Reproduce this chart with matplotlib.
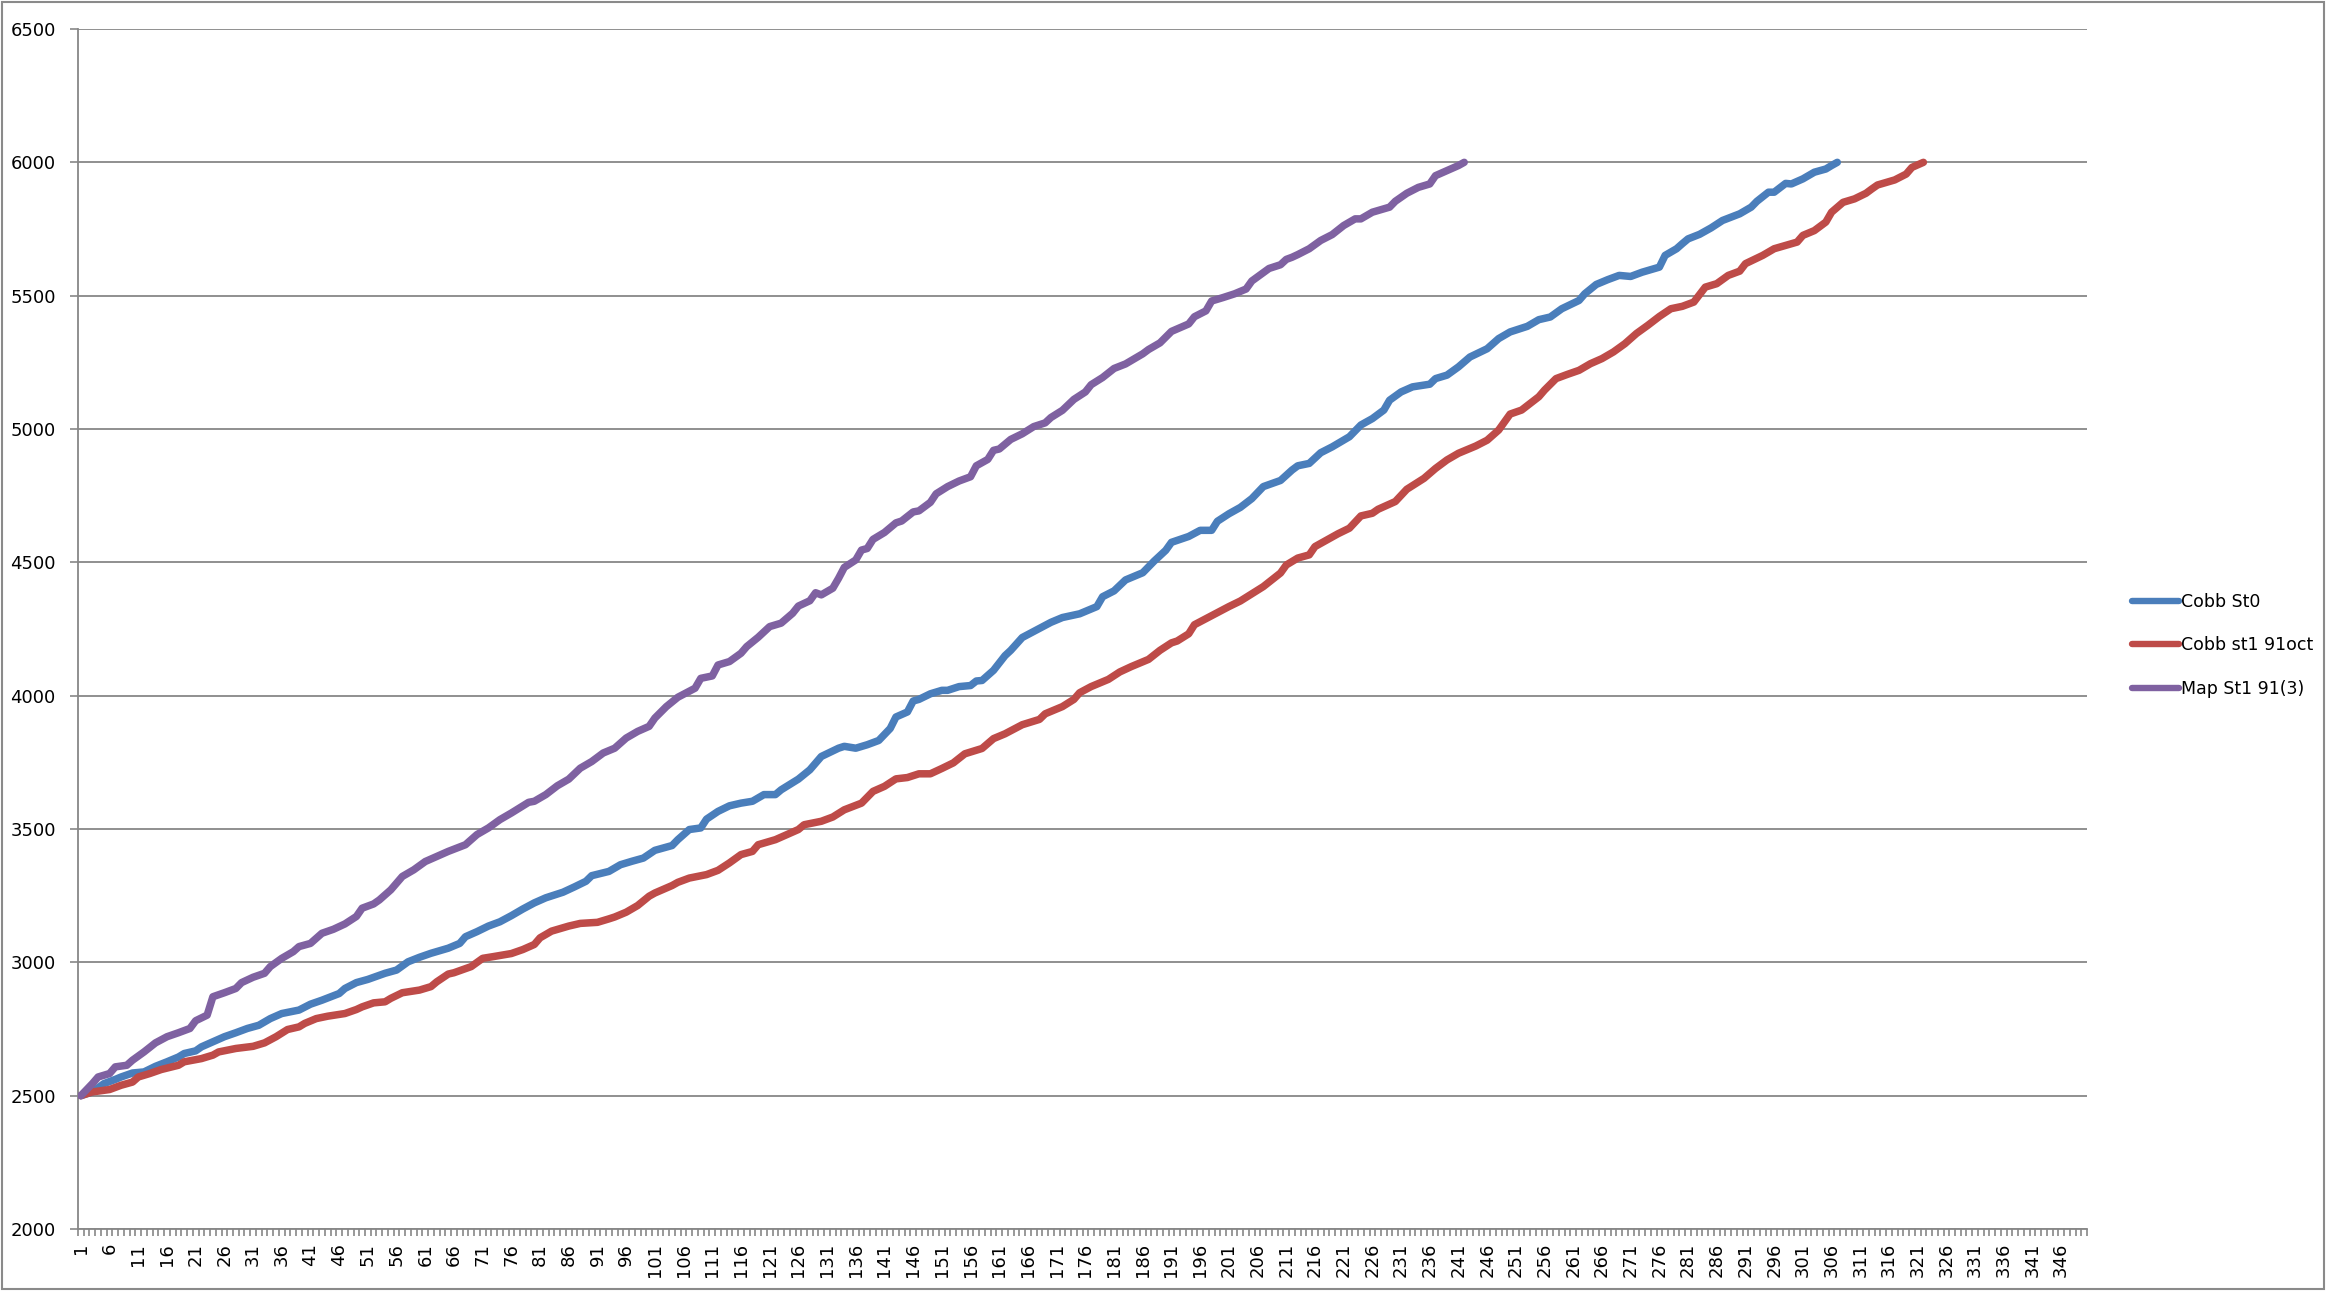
import matplotlib
matplotlib.use("Agg")
import matplotlib.pyplot as plt
from matplotlib.patches import Rectangle

# ---------------- data ----------------
series_names = ["Cobb St0", "Cobb st1 91oct", "Map St1 91(3)"]
n_categories = 350
category_labels = [str(i) for i in range(1, n_categories + 1)]
y_ticks = [2000, 2500, 3000, 3500, 4000, 4500, 5000, 5500, 6000, 6500]

cobb_st0_x = [1, 3, 5, 7, 8, 10, 12, 14, 16, 18, 19, 21, 22, 24, 26, 28, 30, 32, 34, 36,
              39, 41, 43, 46, 47, 49, 51, 54, 56, 58, 60, 62, 65, 67, 68, 70, 72, 74, 76, 78,
              80, 82, 85, 87, 89, 90, 93, 95, 97, 99, 101, 104, 105, 107, 109, 110, 112, 114, 116, 118,
              120, 122, 123, 126, 128, 130, 133, 134, 136, 138, 140, 142, 143, 145, 146, 147, 149, 151, 152, 154,
              156, 157, 158, 160, 162, 163, 165, 168, 170, 172, 175, 177, 178, 179, 181, 183, 186, 188, 190, 191,
              194, 196, 198, 199, 201, 203, 205, 207, 210, 212, 213, 215, 217, 219, 222, 224, 226, 228, 229, 231,
              233, 236, 237, 239, 241, 243, 246, 248, 250, 253, 255, 257, 259, 262, 263, 265, 267, 269, 271, 273,
              276, 277, 279, 280, 281, 283, 285, 287, 290, 292, 293, 295, 296, 298, 299, 301, 303, 305, 306, 307]
cobb_st0_y = [2500, 2514, 2545, 2561, 2570, 2585, 2589, 2610, 2627, 2645, 2658, 2668, 2683, 2702, 2721, 2736, 2752, 2764, 2789, 2808,
              2821, 2843, 2858, 2883, 2902, 2924, 2936, 2959, 2971, 3002, 3019, 3034, 3053, 3071, 3096, 3115, 3136, 3152, 3175, 3200,
              3223, 3242, 3263, 3283, 3304, 3325, 3341, 3366, 3379, 3391, 3420, 3438, 3460, 3498, 3504, 3537, 3566, 3587, 3597, 3604,
              3629, 3629, 3647, 3687, 3722, 3772, 3803, 3810, 3803, 3816, 3832, 3877, 3920, 3939, 3980, 3986, 4007, 4020, 4020, 4034,
              4038, 4055, 4057, 4095, 4150, 4170, 4218, 4252, 4275, 4293, 4307, 4325, 4334, 4371, 4393, 4434, 4461, 4505, 4545, 4575,
              4597, 4620, 4620, 4654, 4682, 4706, 4739, 4784, 4807, 4846, 4862, 4871, 4911, 4933, 4971, 5015, 5039, 5071, 5108, 5139,
              5158, 5168, 5189, 5202, 5233, 5270, 5301, 5339, 5364, 5385, 5410, 5420, 5451, 5482, 5507, 5542, 5560, 5576, 5572, 5588,
              5607, 5651, 5676, 5695, 5713, 5730, 5754, 5782, 5807, 5832, 5854, 5888, 5888, 5921, 5919, 5938, 5963, 5975, 5988, 6000]

cobb_st1_x = [1, 3, 6, 8, 10, 11, 13, 15, 18, 19, 22, 24, 25, 28, 31, 33, 35, 37, 39, 40,
              42, 44, 47, 49, 50, 52, 54, 55, 57, 60, 62, 63, 65, 66, 69, 71, 73, 76, 78, 80,
              81, 83, 86, 88, 91, 93, 94, 96, 98, 100, 101, 104, 105, 107, 110, 112, 114, 116, 118, 119,
              122, 124, 126, 127, 130, 132, 134, 137, 139, 141, 143, 145, 147, 149, 151, 153, 155, 158, 160, 162,
              165, 168, 169, 172, 174, 175, 177, 180, 182, 184, 187, 189, 191, 192, 194, 195, 198, 201, 203, 205,
              207, 210, 211, 213, 215, 216, 220, 222, 224, 226, 227, 230, 232, 235, 237, 239, 241, 244, 246, 248,
              250, 252, 255, 256, 258, 260, 262, 264, 266, 268, 270, 272, 274, 276, 278, 280, 282, 284, 286, 288,
              290, 291, 294, 296, 300, 301, 303, 305, 306, 308, 310, 312, 313, 314, 317, 319, 320, 322]
cobb_st1_y = [2500, 2514, 2523, 2539, 2551, 2570, 2583, 2598, 2614, 2627, 2639, 2652, 2664, 2677, 2685, 2698, 2721, 2748, 2758, 2771,
              2789, 2798, 2808, 2823, 2833, 2848, 2852, 2865, 2886, 2896, 2909, 2927, 2956, 2961, 2984, 3015, 3022, 3033, 3048, 3067,
              3092, 3117, 3136, 3146, 3150, 3163, 3170, 3188, 3213, 3248, 3260, 3288, 3300, 3316, 3329, 3345, 3373, 3404, 3416, 3441,
              3460, 3479, 3498, 3516, 3529, 3545, 3572, 3597, 3641, 3660, 3688, 3693, 3707, 3707, 3727, 3748, 3782, 3802, 3839, 3857,
              3891, 3911, 3932, 3959, 3986, 4011, 4034, 4061, 4089, 4109, 4136, 4170, 4198, 4205, 4232, 4266, 4300, 4334, 4355, 4382,
              4409, 4460, 4490, 4516, 4528, 4559, 4607, 4628, 4674, 4684, 4699, 4728, 4774, 4815, 4852, 4884, 4909, 4936, 4958, 4996,
              5056, 5071, 5121, 5146, 5189, 5205, 5220, 5245, 5264, 5289, 5320, 5358, 5389, 5422, 5451, 5460, 5476, 5532, 5545, 5576,
              5592, 5620, 5651, 5676, 5701, 5726, 5744, 5776, 5813, 5850, 5863, 5884, 5900, 5915, 5934, 5956, 5981, 6000]

map_st1_x = [1, 3, 4, 6, 7, 9, 10, 12, 14, 16, 18, 20, 21, 23, 24, 26, 28, 29, 31, 33,
             34, 36, 38, 39, 41, 43, 45, 47, 49, 50, 52, 53, 55, 57, 59, 61, 63, 65, 68, 70,
             72, 74, 76, 79, 80, 82, 84, 86, 88, 90, 92, 94, 96, 98, 100, 101, 103, 105, 108, 109,
             111, 112, 114, 116, 117, 119, 121, 123, 125, 126, 128, 129, 130, 132, 133, 134, 136, 137, 138, 139,
             141, 143, 144, 146, 147, 149, 150, 152, 154, 156, 157, 159, 160, 161, 163, 165, 167, 169, 170, 172,
             174, 176, 177, 179, 181, 183, 186, 187, 189, 191, 194, 195, 197, 198, 200, 202, 204, 205, 208, 210,
             211, 212, 213, 215, 217, 219, 221, 223, 224, 226, 229, 230, 232, 234, 236, 237, 239, 241, 242]
map_st1_y = [2500, 2545, 2570, 2583, 2608, 2614, 2633, 2664, 2698, 2721, 2736, 2752, 2781, 2802, 2871, 2886, 2902, 2924, 2944, 2959,
             2984, 3015, 3040, 3059, 3071, 3109, 3124, 3144, 3172, 3203, 3219, 3234, 3272, 3322, 3347, 3378, 3397, 3416, 3441, 3479,
             3504, 3535, 3560, 3600, 3604, 3629, 3662, 3687, 3728, 3753, 3785, 3803, 3841, 3866, 3885, 3916, 3959, 3994, 4028, 4065,
             4074, 4115, 4128, 4159, 4184, 4219, 4259, 4272, 4309, 4336, 4356, 4386, 4378, 4403, 4440, 4481, 4509, 4546, 4552, 4586,
             4612, 4648, 4655, 4689, 4693, 4725, 4757, 4784, 4805, 4821, 4862, 4886, 4920, 4925, 4961, 4982, 5009, 5023, 5043, 5070,
             5111, 5139, 5166, 5193, 5227, 5244, 5282, 5298, 5323, 5366, 5394, 5421, 5443, 5480, 5493, 5507, 5525, 5555, 5602, 5616,
             5636, 5644, 5654, 5676, 5707, 5729, 5763, 5788, 5788, 5813, 5832, 5854, 5884, 5906, 5919, 5950, 5969, 5988, 6000]

series_x = [cobb_st0_x, cobb_st1_x, map_st1_x]
series_y = [cobb_st0_y, cobb_st1_y, map_st1_y]
colors = ["#4A7EBB", "#BE4B48", "#7F61A1"]

# ---------------- figure ----------------
W, H = 2326, 1291
fig = plt.figure(figsize=(W / 100, H / 100), dpi=100)
fig.patch.set_facecolor("white")
fig.patches.append(Rectangle((2 / W, 2 / H), 1 - 4 / W, 1 - 4 / H, transform=fig.transFigure,
                             fill=False, edgecolor="#8a8a8a", linewidth=1.5))

ax_left, ax_right, ax_top, ax_bottom = 78, 2087, 29, 1229
ax = fig.add_axes([ax_left / W, 1 - ax_bottom / H, (ax_right - ax_left) / W, (ax_bottom - ax_top) / H])

grid_color = "#878787"
for name, xs, ys, c in zip(series_names, series_x, series_y, colors):
    ax.plot(xs, ys, color=c, lw=5.4, solid_capstyle="round", solid_joinstyle="round", label=name, zorder=3)

ax.set_xlim(0.5, n_categories + 0.5)
ax.set_ylim(y_ticks[0], y_ticks[-1])
ax.set_yticks(y_ticks)
ax.set_yticklabels([str(v) for v in y_ticks])
ax.yaxis.grid(True, color=grid_color, lw=1.3, zorder=1)
ax.set_axisbelow(True)

label_pos = list(range(1, n_categories + 1, 5))
ax.set_xticks(label_pos)
ax.set_xticklabels([category_labels[i - 1] for i in label_pos], rotation=90)
ax.set_xticks([i + 0.5 for i in range(0, n_categories + 1)], minor=True)

ax.tick_params(axis="x", which="major", length=0, pad=10, labelsize=13)
ax.tick_params(axis="x", which="minor", length=5, width=1.2, color=grid_color)
ax.tick_params(axis="y", which="major", length=6, width=1.2, color=grid_color, pad=10, labelsize=13)

for s in ["top", "right"]:
    ax.spines[s].set_visible(False)
for s in ["left", "bottom"]:
    ax.spines[s].set_color(grid_color)
    ax.spines[s].set_linewidth(1.3)

fig.legend(loc="center left", bbox_to_anchor=(2116 / W, 0.5), frameon=False, fontsize=12.5,
           handlelength=2.7, handletextpad=0.12, labelspacing=1.45)
for line in fig.legends[0].get_lines():
    line.set_linewidth(4.6)
    line.set_solid_capstyle("round")

fig.savefig("out.png", dpi=100, facecolor="white")
